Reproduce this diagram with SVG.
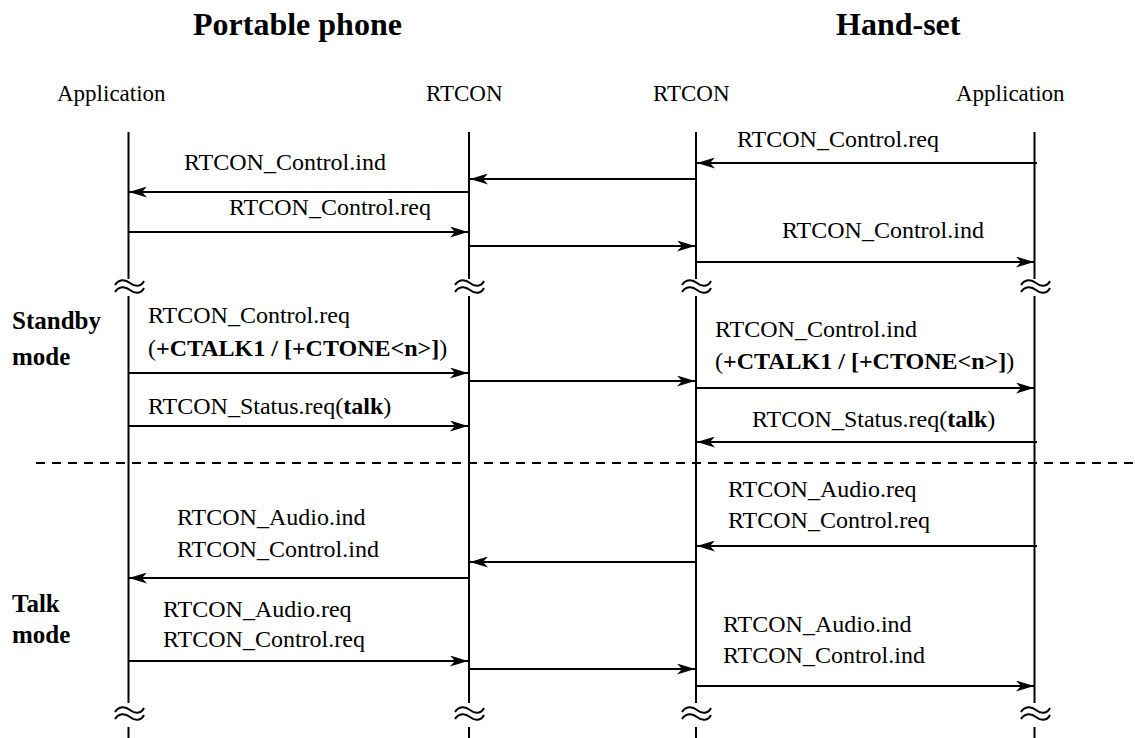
<svg xmlns="http://www.w3.org/2000/svg" width="1135" height="738" viewBox="0 0 1135 738">
<defs>
<style>
text{font-family:"Liberation Serif","Times New Roman",serif;fill:#000}
.t{font-size:32px;font-weight:bold}
.h{font-size:23px}
.l{font-size:24px}
.s{font-size:25px;font-weight:bold}
.b{font-weight:bold}
.life{stroke:#000;stroke-width:2;fill:none}
.msg{stroke:#000;stroke-width:2.2;fill:none;marker-end:url(#ah)}
.brk{stroke:#000;stroke-width:2;fill:none}
</style>
<marker id="ah" viewBox="0 0 18 11" refX="18" refY="5.5" markerWidth="18" markerHeight="11" markerUnits="userSpaceOnUse" orient="auto">
<path d="M0,0 L18,5.5 L0,11 L5,5.5 Z" fill="#000"/>
</marker>
<g id="tilde">
<path d="M-15,5 C-11,-1 -5,-1 0,3 S11,7 14,1"/>
<path d="M-15,12 C-11,6 -5,6 0,10 S11,14 14,8"/>
</g>
</defs>
<rect width="1135" height="738" fill="#fff"/>

<g id="titles">
<text class="t" x="193" y="35">Portable phone</text>
<text class="t" x="836" y="35">Hand-set</text>
</g>

<g id="app-left">
<text class="h" x="57" y="101">Application</text>
<path class="life" d="M128.5,132 V279 M128.5,296 V703 M128.5,727 V738"/>
</g>
<g id="rtcon-left">
<text class="h" x="426" y="101">RTCON</text>
<path class="life" d="M469,132 V279 M469,296 V703 M469,727 V738"/>
</g>
<g id="rtcon-right">
<text class="h" x="653" y="101">RTCON</text>
<path class="life" d="M696,132 V279 M696,296 V703 M696,727 V738"/>
</g>
<g id="app-right">
<text class="h" x="956" y="101">Application</text>
<path class="life" d="M1034.5,132 V279 M1034.5,296 V703 M1034.5,727 V738"/>
</g>

<g id="breaks" class="brk">
<use href="#tilde" x="130" y="280"/>
<use href="#tilde" x="470" y="280"/>
<use href="#tilde" x="697" y="280"/>
<use href="#tilde" x="1036" y="280"/>
<use href="#tilde" x="130" y="707"/>
<use href="#tilde" x="470" y="707"/>
<use href="#tilde" x="697" y="707"/>
<use href="#tilde" x="1036" y="707"/>
</g>

<g id="mode-labels">
<text class="s" x="12" y="329">Standby</text>
<text class="s" x="12" y="365">mode</text>
<text class="s" x="12" y="612">Talk</text>
<text class="s" x="12" y="643">mode</text>
</g>

<g id="separator">
<line x1="36" y1="463" x2="1135" y2="463" stroke="#000" stroke-width="2" stroke-dasharray="9 7"/>
</g>

<g id="labels">
<text class="l" x="737" y="147">RTCON_Control.req</text>
<text class="l" x="184" y="170">RTCON_Control.ind</text>
<text class="l" x="229" y="215">RTCON_Control.req</text>
<text class="l" x="782" y="238">RTCON_Control.ind</text>

<text class="l" x="148" y="323">RTCON_Control.req</text>
<text class="l" x="148" y="356">(<tspan class="b">+CTALK1 / [+CTONE&lt;n&gt;]</tspan>)</text>
<text class="l" x="715" y="337">RTCON_Control.ind</text>
<text class="l" x="715" y="369">(<tspan class="b">+CTALK1 / [+CTONE&lt;n&gt;]</tspan>)</text>
<text class="l" x="148" y="414">RTCON_Status.req(<tspan class="b">talk</tspan>)</text>
<text class="l" x="752" y="427">RTCON_Status.req(<tspan class="b">talk</tspan>)</text>

<text class="l" x="728" y="497">RTCON_Audio.req</text>
<text class="l" x="728" y="528">RTCON_Control.req</text>
<text class="l" x="177" y="525">RTCON_Audio.ind</text>
<text class="l" x="177" y="557">RTCON_Control.ind</text>
<text class="l" x="163" y="617">RTCON_Audio.req</text>
<text class="l" x="163" y="647">RTCON_Control.req</text>
<text class="l" x="723" y="632">RTCON_Audio.ind</text>
<text class="l" x="723" y="663">RTCON_Control.ind</text>
</g>

<g id="connectors">
<line class="msg" x1="1037" y1="163" x2="697" y2="163"/>
<line class="msg" x1="696" y1="179" x2="470" y2="179"/>
<line class="msg" x1="469" y1="192" x2="129" y2="192"/>
<line class="msg" x1="128" y1="232" x2="468" y2="232"/>
<line class="msg" x1="469" y1="246" x2="695" y2="246"/>
<line class="msg" x1="696" y1="262" x2="1034" y2="262"/>

<line class="msg" x1="128" y1="373" x2="468" y2="373"/>
<line class="msg" x1="469" y1="381" x2="695" y2="381"/>
<line class="msg" x1="696" y1="388" x2="1034" y2="388"/>
<line class="msg" x1="128" y1="426" x2="468" y2="426"/>
<line class="msg" x1="1037" y1="442" x2="697" y2="442"/>

<line class="msg" x1="1037" y1="546" x2="697" y2="546"/>
<line class="msg" x1="696" y1="562" x2="470" y2="562"/>
<line class="msg" x1="469" y1="578" x2="129" y2="578"/>
<line class="msg" x1="128" y1="661" x2="468" y2="661"/>
<line class="msg" x1="469" y1="669" x2="695" y2="669"/>
<line class="msg" x1="696" y1="686" x2="1034" y2="686"/>
</g>
</svg>
